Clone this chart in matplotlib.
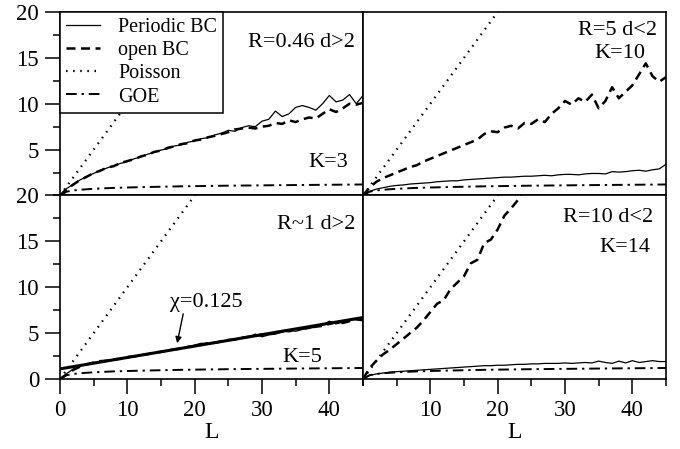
import numpy as np
import matplotlib
matplotlib.use("Agg")
import matplotlib.pyplot as plt
from matplotlib.ticker import MultipleLocator, FixedLocator

plt.rcParams["font.family"] = ["Liberation Serif", "DejaVu Serif"]
plt.rcParams["mathtext.fontset"] = "stix"

# ---- data ----
L = list(range(46))

TL_PER = [0, 0.75, 1.25, 1.7, 2.1, 2.4, 2.75, 3.0, 3.25, 3.5, 3.7, 4.0, 4.2, 4.5, 4.7, 4.95,
          5.1, 5.4, 5.5, 5.8, 5.95, 6.2, 6.3, 6.6, 6.8, 7.1, 7.0, 7.4, 7.6, 7.5, 8.1, 8.3,
          9.2, 8.6, 8.9, 9.6, 9.8, 9.6, 9.3, 10.0, 10.9, 10.2, 10.4, 11.0, 10.0, 10.9]
TL_OPEN = [0, 0.7, 1.2, 1.7, 2.05, 2.45, 2.7, 3.05, 3.2, 3.55, 3.75, 3.95, 4.25, 4.45, 4.75, 4.9,
           5.2, 5.35, 5.6, 5.7, 6.0, 6.1, 6.35, 6.5, 6.7, 6.9, 7.2, 7.3, 7.4, 7.3, 7.5, 7.6,
           7.9, 7.8, 8.2, 8.0, 8.3, 8.5, 8.4, 8.9, 9.4, 9.1, 9.5, 10.0, 9.9, 10.1]

TR_PER = [0, 0.45, 0.7, 0.85, 1.0, 1.1, 1.15, 1.25, 1.3, 1.35, 1.4, 1.5, 1.55, 1.6, 1.6, 1.7,
          1.75, 1.8, 1.85, 1.9, 1.95, 2.0, 2.0, 2.05, 2.1, 2.1, 2.15, 2.2, 2.15, 2.25, 2.3, 2.3,
          2.25, 2.35, 2.4, 2.4, 2.35, 2.6, 2.55, 2.6, 2.7, 2.75, 2.65, 2.8, 2.9, 3.4]
TR_OPEN = [0, 0.9, 1.5, 1.9, 2.2, 2.5, 2.8, 3.1, 3.3, 3.7, 4.0, 4.3, 4.6, 4.9, 5.2, 5.5,
           5.8, 6.1, 6.7, 7.0, 6.9, 7.4, 7.6, 7.3, 7.9, 7.8, 8.3, 8.0, 8.9, 9.5, 10.3, 9.9,
           10.6, 10.2, 11.0, 9.5, 10.3, 11.8, 10.6, 11.3, 12.0, 13.2, 14.4, 13.0, 12.4, 12.9]

BL_PER = [0, 0.6, 1.1, 1.4, 1.65, 1.8, 1.9, 2.0, 2.1, 2.25, 2.35, 2.5, 2.6, 2.75, 2.85, 3.0,
          3.1, 3.2, 3.4, 3.45, 3.7, 3.9, 3.85, 4.0, 4.1, 4.2, 4.35, 4.5, 4.55, 4.9, 4.6, 4.8,
          4.9, 5.1, 5.35, 5.2, 5.4, 5.5, 5.7, 5.9, 6.3, 6.0, 6.2, 6.4, 6.5, 6.6]
BL_OPEN = [0, 0.5, 1.0, 1.35, 1.6, 1.8, 1.95, 2.0, 2.15, 2.2, 2.4, 2.45, 2.6, 2.7, 2.9, 2.95,
           3.1, 3.25, 3.3, 3.5, 3.6, 3.75, 3.9, 3.95, 4.1, 4.25, 4.3, 4.5, 4.6, 4.7, 4.85, 4.95,
           5.0, 5.3, 5.2, 5.4, 5.5, 5.6, 5.7, 5.8, 6.0, 6.2, 6.1, 6.3, 6.5, 6.4]
FIT_L = [0, 45]
FIT_Y = [1.1, 6.7]

BR_PER = [0, 0.4, 0.55, 0.65, 0.75, 0.8, 0.85, 0.9, 0.95, 1.0, 1.05, 1.1, 1.15, 1.2, 1.25, 1.3,
          1.35, 1.4, 1.45, 1.45, 1.5, 1.5, 1.55, 1.6, 1.6, 1.65, 1.65, 1.7, 1.7, 1.7, 1.75, 1.7,
          1.75, 1.8, 1.75, 1.95, 1.8, 1.7, 1.95, 1.75, 2.0, 1.8, 1.9, 2.0, 1.9, 1.9]
BR_OPEN_L = list(range(26))
BR_OPEN = [0, 1.2, 2.0, 2.7, 3.2, 3.8, 4.4, 5.0, 5.6, 6.4, 7.3, 8.2, 8.6, 9.8, 10.5, 11.2,
           12.6, 13.0, 14.8, 15.2, 16.3, 17.8, 18.6, 19.5, 21.0, 22.5]

POI_L = [0, 45]
POI_Y = [0, 45]
GOE_L = [0, 1, 2, 3, 5, 8, 12, 18, 25, 35, 45]
GOE_Y = [0, 0.42, 0.55, 0.63, 0.73, 0.83, 0.91, 1.0, 1.07, 1.14, 1.2]

PANELS = [
    (TL_PER, TL_OPEN),
    (TR_PER, TR_OPEN),
    (BL_PER, BL_OPEN),
    (BR_PER, BR_OPEN),
]

DASH = (0, (3.6, 2.2))
DOT = (0, (0.7, 2.5))
DASHDOT = (0, (5.5, 2.5, 1.2, 2.5))
TXT = 16

fig, axs = plt.subplots(2, 2, figsize=(6.8, 4.49), dpi=100)
fig.subplots_adjust(left=0.0882, right=0.9794, top=0.9733, bottom=0.1559,
                    hspace=0, wspace=0)

for i, ax in enumerate(axs.flat):
    per, opn = PANELS[i]
    ax.plot(L, per, color="black", lw=0.9, label="Periodic BC")
    open_l = BR_OPEN_L if i == 3 else L
    ax.plot(open_l, opn, color="black", lw=1.8, ls=DASH, label="open BC")
    ax.plot(POI_L, POI_Y, color="black", lw=1.6, ls=DOT, label="Poisson")
    ax.plot(GOE_L, GOE_Y, color="black", lw=1.4, ls=DASHDOT, label="GOE")
    if i == 2:
        ax.plot(FIT_L, FIT_Y, color="black", lw=2.2)
    ax.set_xlim(0, 45)
    ax.set_ylim(0, 20)
    for s in ax.spines.values():
        s.set_linewidth(1.2)
    ax.tick_params(which="both", direction="out", width=1.1, labelsize=16.5, pad=4)
    ax.tick_params(which="major", length=11)
    ax.tick_params(which="minor", length=5)
    ax.yaxis.set_minor_locator(MultipleLocator(2.5))
    ax.xaxis.set_minor_locator(MultipleLocator(5))

# axis ticks / labels per panel
axs[0, 0].yaxis.set_major_locator(FixedLocator([5, 10, 15, 20]))
axs[1, 0].yaxis.set_major_locator(FixedLocator([0, 5, 10, 15, 20]))
for ax in axs[:, 1]:
    ax.tick_params(which="both", left=False, labelleft=False)
for ax in axs[0, :]:
    ax.tick_params(which="both", bottom=False, labelbottom=False)
axs[1, 0].xaxis.set_major_locator(FixedLocator([0, 10, 20, 30, 40]))
axs[1, 1].xaxis.set_major_locator(FixedLocator([10, 20, 30, 40]))
for ax in axs[1, :]:
    ax.set_xlabel("L", fontsize=17, labelpad=1)

# annotations
axs[0, 0].text(43.8, 16.7, "R=0.46 d>2", ha="right", va="center", fontsize=TXT)
axs[0, 0].text(42.8, 3.6, "K=3", ha="right", va="center", fontsize=TXT)
axs[0, 1].text(43.7, 18.0, "R=5 d<2", ha="right", va="center", fontsize=TXT)
axs[0, 1].text(41.9, 15.5, "K=10", ha="right", va="center", fontsize=TXT)
axs[1, 0].text(43.8, 16.8, "R~1 d>2", ha="right", va="center", fontsize=TXT)
axs[1, 0].text(38.9, 2.3, "K=5", ha="right", va="center", fontsize=TXT)
axs[1, 0].text(21.8, 8.3, "χ=0.125", ha="center", va="center", fontsize=TXT)
axs[1, 0].annotate("", xy=(17.4, 3.9), xytext=(18.3, 7.1),
                   arrowprops=dict(arrowstyle="-|>", color="black", lw=1.0,
                                   mutation_scale=9, shrinkA=0, shrinkB=0))
axs[1, 1].text(43.1, 17.6, "R=10 d<2", ha="right", va="center", fontsize=TXT)
axs[1, 1].text(42.7, 14.3, "K=14", ha="right", va="center", fontsize=TXT)

leg = axs[0, 0].legend(loc="upper left", bbox_to_anchor=(0, 1), borderaxespad=0,
                       fontsize=14.5, handlelength=1.7, handletextpad=0.9,
                       labelspacing=0.2, borderpad=0.3, fancybox=False,
                       framealpha=1, edgecolor="black")
leg.get_frame().set_linewidth(1.1)

fig.savefig("out.png", dpi=100)
